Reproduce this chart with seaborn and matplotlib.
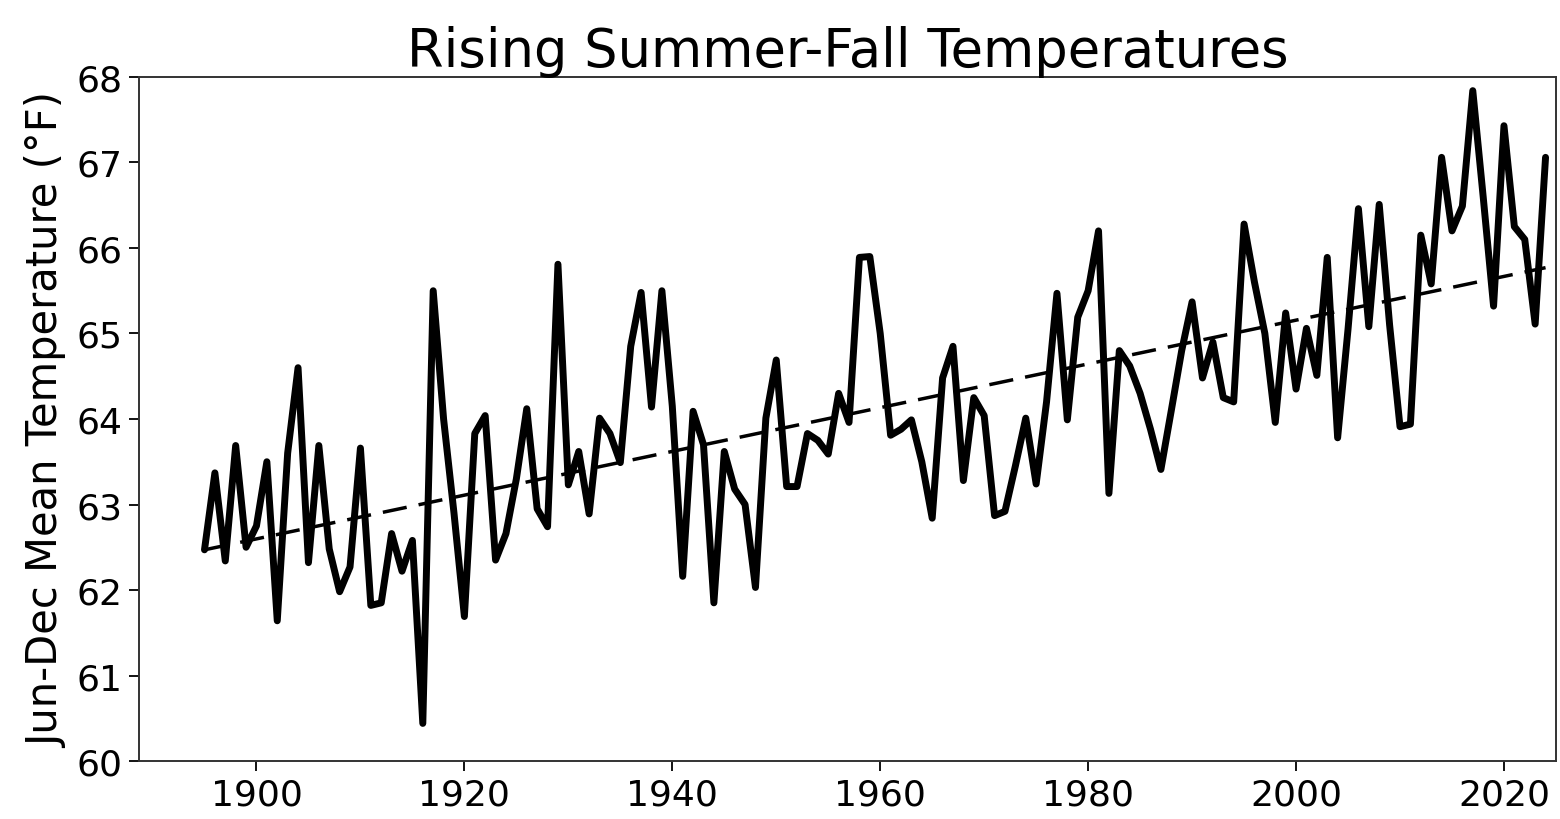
import numpy as np
import pandas as pd
import seaborn as sns
from matplotlib import pyplot as plt

# Jun-Dec mean temperature
years = list(range(1895, 2025))
temps = [
    62.47, 63.37, 62.34, 63.69, 62.50, 62.75, 63.50, 61.64, 63.60, 64.60,  # 1895-1904
    62.32, 63.69, 62.48, 61.98, 62.27, 63.66, 61.82, 61.85, 62.66, 62.22,  # 1905-1914
    62.58, 60.44, 65.50, 64.00, 62.90, 61.69, 63.83, 64.04, 62.35, 62.66,  # 1915-1924
    63.30, 64.12, 62.95, 62.74, 65.81, 63.23, 63.62, 62.89, 64.01, 63.83,  # 1925-1934
    63.49, 64.85, 65.48, 64.14, 65.50, 64.15, 62.16, 64.09, 63.70, 61.85,  # 1935-1944
    63.62, 63.18, 63.00, 62.03, 64.01, 64.69, 63.21, 63.21, 63.83, 63.75,  # 1945-1954
    63.59, 64.30, 63.96, 65.89, 65.90, 65.00, 63.81, 63.88, 63.99, 63.50,  # 1955-1964
    62.84, 64.48, 64.85, 63.28, 64.25, 64.04, 62.87, 62.92, 63.45, 64.01,  # 1965-1974
    63.24, 64.20, 65.47, 63.99, 65.19, 65.50, 66.20, 63.13, 64.80, 64.62,  # 1975-1984
    64.30, 63.88, 63.41, 64.10, 64.80, 65.37, 64.48, 64.90, 64.25, 64.20,  # 1985-1994
    66.28, 65.60, 65.00, 63.96, 65.24, 64.35, 65.06, 64.51, 65.89, 63.78,  # 1995-2004
    65.05, 66.46, 65.08, 66.51, 65.10, 63.91, 63.94, 66.15, 65.58, 67.06,  # 2005-2014
    66.20, 66.49, 67.84, 66.60, 65.32, 67.43, 66.25, 66.10, 65.11, 67.06,  # 2015-2024
]

df = pd.DataFrame({"year": years, "temp": temps})

sns.set_style("ticks", {"axes.edgecolor": "0.2", "text.color": "black",
                        "xtick.color": "black", "ytick.color": "black",
                        "axes.labelcolor": "black"})
plt.rcParams["font.family"] = ["DejaVu Sans"]

fig = plt.figure(figsize=(15.6, 8.2), dpi=100)
ax = fig.add_axes([0.0891, 0.0707, 0.9083, 0.8342])

sns.lineplot(data=df, x="year", y="temp", color="black", linewidth=5, ax=ax)
# linear trend
sns.regplot(data=df, x="year", y="temp", scatter=False, ci=None, ax=ax,
            line_kws={"color": "black", "linestyle": (0, (7, 3.5)), "linewidth": 2.5})

ax.set_xlim(1888.7, 2025)
ax.set_ylim(60, 68)
ax.set_yticks(range(60, 69))
ax.set_xticks(range(1900, 2021, 20))
ax.set_xlabel("")
ax.set_ylabel("Jun-Dec Mean Temperature (°F)", fontsize=30, labelpad=6)
ax.set_title("Rising Summer-Fall Temperatures", fontsize=38, pad=6)
ax.tick_params(labelsize=26, length=7, width=1.3, pad=5)
for s in ax.spines.values():
    s.set_linewidth(1.4)

fig.savefig("out.png", dpi=100)
plt.close(fig)
